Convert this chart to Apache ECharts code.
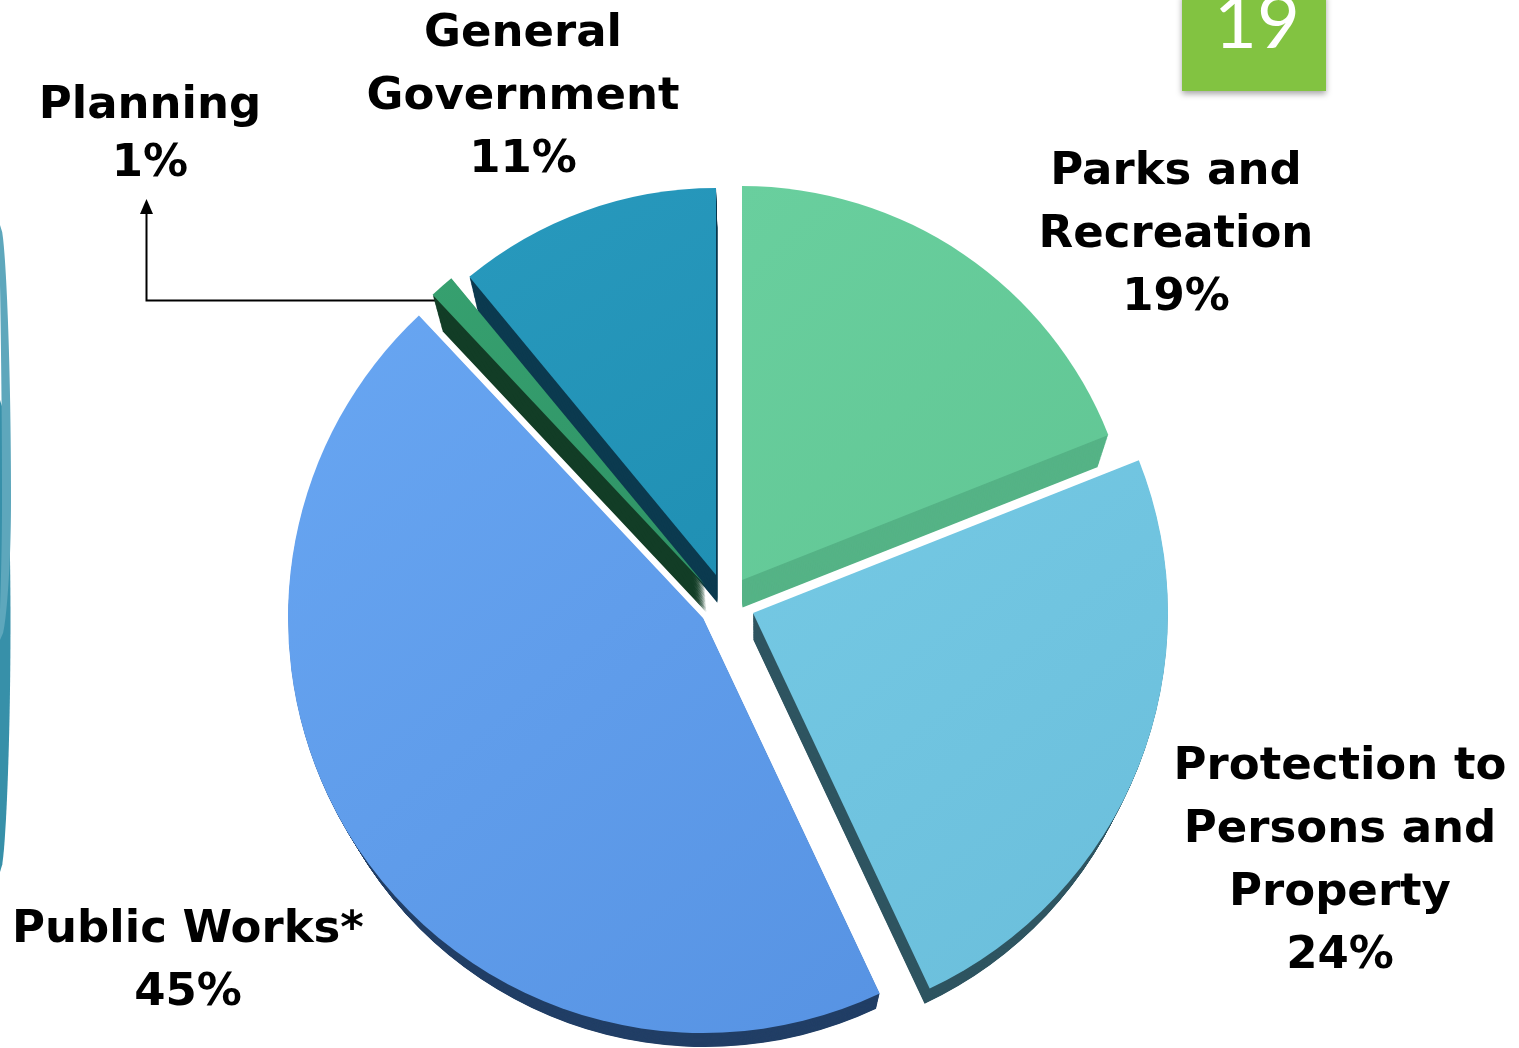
<!DOCTYPE html>
<html><head><meta charset="utf-8">
<script src="https://cdn.jsdelivr.net/npm/echarts@6/dist/echarts.min.js"></script>
<style>html,body{margin:0;padding:0;background:#fff;overflow:hidden}#c{width:1519px;height:1048px}</style>
</head><body><div id="c"></div>
<script>
// ---- data ----
const categories = ['Parks and Recreation', 'Protection to Persons and Property', 'Public Works*', 'Planning', 'General Government'];
const labelNames = ['Parks and\nRecreation', 'Protection to\nPersons and\nProperty', 'Public Works*', 'Planning', 'General\nGovernment'];
const shares = [19, 24, 45, 1, 11];
const slideNumber = '19';

// ---- styles / layout ----
const faceColors = [['#69cf9e', '#61c694'], ['#75c9e4', '#6abedb'], ['#68a6f2', '#5793e3'], ['#36a06f', '#2f9366'], ['#2899bd', '#2090b4']];
const sideColors = ['#55b386', '#2f5561', '#223f66', '#123d26', '#0b3a4f'];
const apex = [[742, 580], [753, 613], [703, 618], [705, 585], [716, 575]];
const radii = [394, 415, 415, 398, 387];
const V = [760, 1500], K = 0.03, STEPS = 30;
const labelPos = [[1176, 141], [1340, 736], [188, 899], [150, 77], [523, 3]];
const labelLH = [63, 63, 63, 58, 63];

const chart = echarts.init(document.getElementById('c'), null, {renderer: 'canvas'});

function makeData(idx, colorFn, withLabel) {
  return categories.map((name, i) => ({
    name: name,
    value: shares[i],
    itemStyle: {color: i === idx ? colorFn(i) : 'rgba(0,0,0,0)', borderWidth: 0},
    label: {show: withLabel && i === idx, lineHeight: labelLH[i]}
  }));
}

const series = [];
for (let s = STEPS; s >= 1; s--) {
  const t = K * s / STEPS;
  for (let idx = 0; idx < categories.length; idx++) {
    const c = apex[idx];
    series.push({
      type: 'pie', silent: true, animation: false,
      center: [c[0] + t * (V[0] - c[0]), c[1] + t * (V[1] - c[1])],
      radius: [0, radii[idx] * (1 - t)],
      startAngle: 90, clockwise: true, avoidLabelOverlap: false,
      label: {show: false}, labelLine: {show: false},
      emphasis: {disabled: true},
      data: makeData(idx, i => sideColors[i], false)
    });
  }
}
for (let idx = 0; idx < categories.length; idx++) {
  series.push({
    type: 'pie', silent: true, animation: false,
    center: apex[idx],
    radius: [0, radii[idx]],
    startAngle: 90, clockwise: true, avoidLabelOverlap: false,
    label: {
      show: false, position: 'outside', overflow: 'none',
      formatter: p => labelNames[p.dataIndex] + '\n' + p.value + '%',
      fontFamily: 'DejaVu Sans', fontWeight: 'bold', fontSize: 45, lineHeight: 63,
      color: '#000', align: 'center'
    },
    labelLine: {show: false},
    labelLayout: p => ({x: labelPos[p.dataIndex][0], y: labelPos[p.dataIndex][1], align: 'center', verticalAlign: 'top'}),
    emphasis: {disabled: true},
    data: makeData(idx, i => ({type: 'linear', x: 0, y: 0, x2: 1, y2: 1,
      colorStops: [{offset: 0, color: faceColors[i][0]}, {offset: 1, color: faceColors[i][1]}]}), true)
  });
}

// left decorative crescents
function crescent(y0, y1, peakY, peakX, innerX) {
  const pts = [];
  const n = 60;
  for (let j = 0; j <= n; j++) {
    const y = y0 + (y1 - y0) * j / n;
    const u = y <= peakY ? (y - y0) / (peakY - y0) : (y1 - y) / (y1 - peakY);
    pts.push([peakX * Math.sqrt(Math.sin(u * Math.PI / 2)), y]);
  }
  for (let j = n; j >= 0; j--) {
    const y = y0 + (y1 - y0) * j / n;
    const u = y <= peakY ? (y - y0) / (peakY - y0) : (y1 - y) / (y1 - peakY);
    pts.push([innerX * Math.sin(u * Math.PI / 2) - 1, y]);
  }
  return pts;
}

chart.setOption({
  backgroundColor: '#ffffff',
  animation: false,
  series: series,
  graphic: [
    {type: 'polygon', shape: {points: crescent(400, 872, 620, 10.5, 0)}, style: {fill: '#3790a9'}, silent: true},
    {type: 'polygon', shape: {points: crescent(225, 640, 500, 11, 3)}, style: {fill: '#5ea7bc'}, silent: true},
    {type: 'rect', shape: {x: 1182, y: -6, width: 144, height: 97}, silent: true,
      style: {fill: '#82c341', shadowBlur: 6, shadowOffsetY: 3, shadowColor: 'rgba(0,0,0,0.35)'}},
    {type: 'text', silent: true, style: {text: slideNumber, x: 1257, y: 24, fill: '#ffffff',
      font: '400 74px Lato, "Open Sans", sans-serif', align: 'center', verticalAlign: 'middle'}},
    {type: 'polyline', silent: true, shape: {points: [[442, 300.5], [146.5, 300.5], [146.5, 210]]},
      style: {stroke: '#000', lineWidth: 2, fill: null}},
    {type: 'polygon', silent: true, shape: {points: [[146.5, 199], [140, 214], [153, 214]]}, style: {fill: '#000'}}
  ]
});
</script>
</body></html>
